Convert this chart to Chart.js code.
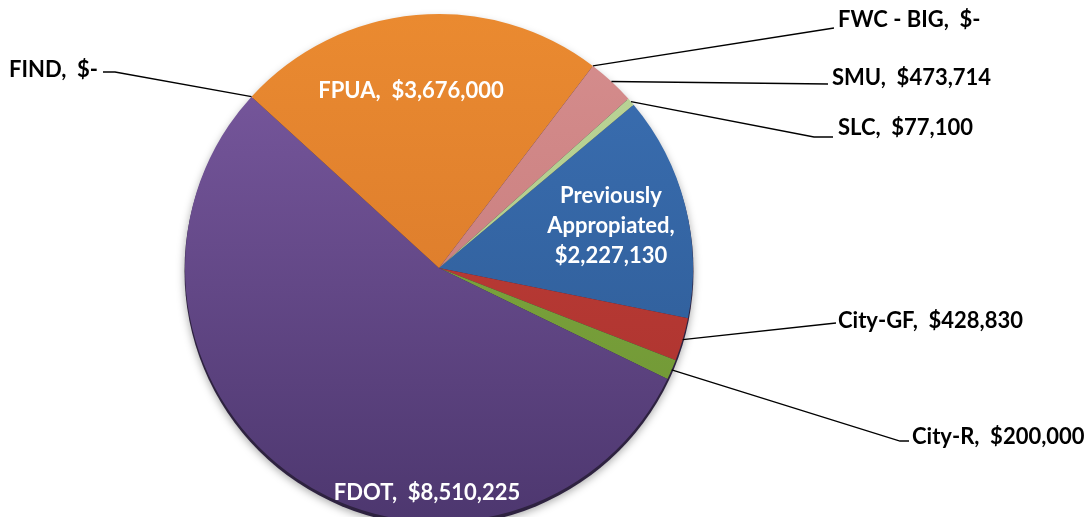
<!DOCTYPE html>
<html>
<head>
<meta charset="utf-8">
<script src="https://cdn.jsdelivr.net/npm/chart.js@4.4.1/dist/chart.umd.min.js"></script>
<style>
  html, body { margin: 0; padding: 0; background: #fff; overflow: hidden; }
  #wrap { width: 1091px; height: 517px; overflow: hidden; }
  canvas { display: block; }
</style>
</head>
<body>
<div id="wrap"><canvas id="fundChart" width="1091" height="530"></canvas></div>
<script>
const categories = ["Previously Appropiated", "City-GF", "City-R", "FDOT", "FIND", "FPUA", "FWC - BIG", "SMU", "SLC"];
const amounts = [2227130, 428830, 200000, 8510225, 0, 3676000, 0, 473714, 77100];

// slice shading, light (top) to dark (bottom)
const topColors = ["#3b70b4", "#c4423b", "#86b044", "#7c5ba2", "#7c5ba2", "#ea8a30", "#ea8a30", "#d68e8e", "#bcd698"];
const bottomColors = ["#2c5890", "#a8302c", "#6c9232", "#4d376f", "#4d376f", "#d4742a", "#d4742a", "#c07474", "#a8c282"];

// where each label sits: inside labels are centred, outside ones get a leader line
const labelLayout = [
  { inside: true, x: 611, y: 196, lineGap: 30, split: true },
  { x: 838, y: 321, line: [[836, 323]] },
  { x: 912, y: 437, line: [[900, 441], [909, 441]] },
  { inside: true, x: 427, y: 493 },
  { x: 98, y: 70, align: "right", line: [[115, 72], [103, 72]] },
  { inside: true, x: 411, y: 91 },
  { x: 838, y: 20, line: [[834, 28]] },
  { x: 832, y: 78, line: [[828, 84]] },
  { x: 838, y: 128, line: [[814, 137], [833, 137]] },
];

const labelFont = "bold 22px Lato";

function money(v) {
  return v === 0 ? "$-" : "$" + v.toLocaleString("en-US");
}

function shade(ctx) {
  const i = ctx.dataIndex;
  const area = ctx.chart.chartArea;
  if (!area) return topColors[i];
  const g = ctx.chart.ctx.createLinearGradient(0, area.top, 0, area.bottom);
  g.addColorStop(0, topColors[i]);
  g.addColorStop(1, bottomColors[i]);
  return g;
}

const rimPlugin = {
  id: "rim",
  beforeDatasetsDraw(chart) {
    const arc = chart.getDatasetMeta(0).data[0];
    if (!arc) return;
    const c = chart.ctx;
    c.save();
    c.shadowColor = "rgba(0,0,0,0.35)";
    c.shadowBlur = 8;
    c.shadowOffsetY = 2;
    c.fillStyle = "#2e2240";
    c.beginPath();
    c.arc(arc.x, arc.y + 3, arc.outerRadius + 0.5, 0, Math.PI * 2);
    c.fill();
    c.restore();
  },
};

const labelPlugin = {
  id: "sliceLabels",
  afterDatasetsDraw(chart) {
    const c = chart.ctx;
    const arcs = chart.getDatasetMeta(0).data;
    c.save();
    c.font = labelFont;
    c.textBaseline = "middle";
    arcs.forEach((arc, i) => {
      const lay = labelLayout[i];
      const name = categories[i];
      const val = money(amounts[i]);
      if (lay.inside) {
        c.fillStyle = "#fff";
        c.textAlign = "center";
        if (lay.split) {
          const lines = name.split(" ");
          lines[lines.length - 1] += ",";
          lines.push(val);
          lines.forEach((t, k) => c.fillText(t, lay.x, lay.y + k * lay.lineGap));
        } else {
          c.fillText(name + ",  " + val, lay.x, lay.y);
        }
        return;
      }
      const mid = (arc.startAngle + arc.endAngle) / 2;
      const ex = arc.x + Math.cos(mid) * arc.outerRadius;
      const ey = arc.y + Math.sin(mid) * arc.outerRadius;
      c.strokeStyle = "#000";
      c.lineWidth = 1.3;
      c.beginPath();
      c.moveTo(ex, ey);
      lay.line.forEach((p) => c.lineTo(p[0], p[1]));
      c.stroke();
      c.fillStyle = "#000";
      c.textAlign = lay.align || "left";
      c.fillText(name + ",  " + val, lay.x, lay.y);
    });
    c.restore();
  },
};

new Chart(document.getElementById("fundChart"), {
  type: "pie",
  data: {
    labels: categories,
    datasets: [
      {
        data: amounts,
        backgroundColor: shade,
        borderWidth: 0,
        hoverOffset: 0,
      },
    ],
  },
  options: {
    responsive: false,
    animation: false,
    rotation: 50,
    layout: { padding: { left: 185, right: 398, top: 14, bottom: 8 } },
    plugins: {
      legend: { display: false },
      tooltip: { enabled: false },
    },
  },
  plugins: [rimPlugin, labelPlugin],
});
</script>
</body>
</html>
